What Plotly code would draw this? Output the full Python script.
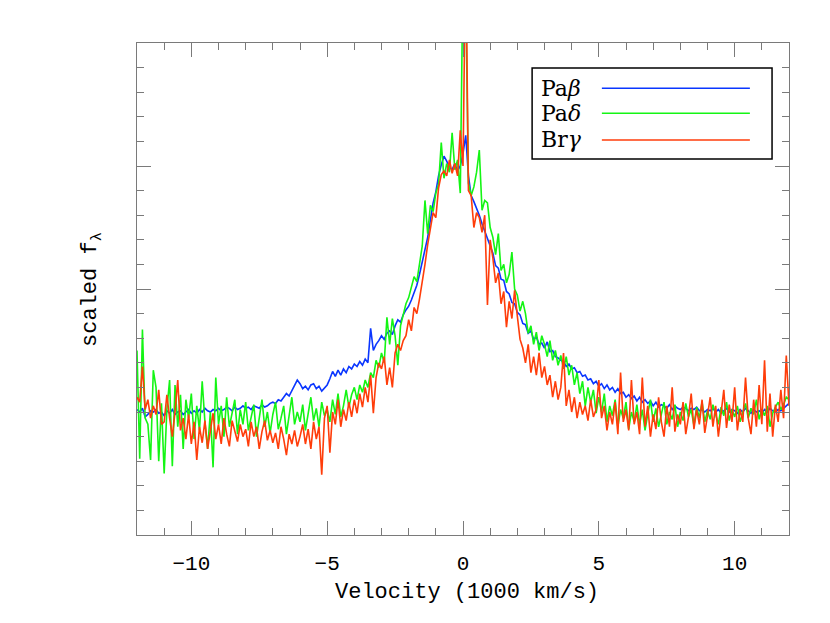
import plotly.graph_objects as go

# velocity sampling grid (1000 km/s)
velocity = [round(-12 + 0.1 * i, 1) for i in range(241)]

pa_beta = [
    1.02, 1.00, 1.03, 0.96, 0.98, 1.01, 1.00, 1.02, 0.99, 1.00,
    0.97, 1.01, 0.99, 1.02, 0.98, 1.00, 1.01, 0.98, 1.00, 1.02,
    0.99, 1.01, 0.99, 1.02, 1.00, 1.03, 1.01, 1.00, 1.02, 1.01,
    1.03, 1.01, 1.02, 1.04, 1.03, 1.01, 1.04, 1.02, 1.03, 1.05,
    1.03, 1.04, 1.02, 1.05, 1.04, 1.03, 1.06, 1.04, 1.05, 1.07,
    1.08, 1.07, 1.10, 1.09, 1.12, 1.15, 1.13, 1.17, 1.22, 1.26,
    1.23, 1.19, 1.21, 1.18, 1.22, 1.23, 1.19, 1.21, 1.17, 1.20,
    1.22, 1.27, 1.33, 1.29, 1.34, 1.30, 1.35, 1.32, 1.37, 1.35,
    1.39, 1.37, 1.41, 1.38, 1.43, 1.40, 1.68, 1.50, 1.55, 1.58,
    1.62, 1.59, 1.64, 1.66, 1.63, 1.70, 1.75, 1.73, 1.79, 1.83,
    1.86, 1.91, 1.97, 2.03, 2.12, 2.22, 2.32, 2.42, 2.56, 2.70,
    2.79, 2.92, 3.01, 3.08, 3.04, 2.99, 2.97, 3.02, 2.96, 3.00,
    3.10, 3.25, 2.92, 2.76, 2.71, 2.66, 2.60, 2.53, 2.47, 2.41,
    2.34, 2.29, 2.19, 2.17, 2.08, 2.07, 1.98, 1.96, 1.89, 1.88,
    1.81, 1.79, 1.72, 1.71, 1.64, 1.66, 1.59, 1.61, 1.55, 1.56,
    1.52, 1.57, 1.49, 1.50, 1.45, 1.44, 1.42, 1.41, 1.37, 1.39,
    1.35, 1.36, 1.32, 1.33, 1.29, 1.30, 1.26, 1.27, 1.23, 1.25,
    1.21, 1.23, 1.19, 1.22, 1.18, 1.20, 1.16, 1.19, 1.15, 1.16,
    1.12, 1.14, 1.11, 1.13, 1.09, 1.12, 1.08, 1.10, 1.07, 1.09,
    1.05, 1.08, 1.04, 1.06, 1.05, 1.03, 1.06, 1.02, 1.05, 1.03,
    1.02, 1.04, 1.03, 1.01, 1.03, 1.02, 1.04, 1.01, 1.02, 1.00,
    1.02, 1.01, 1.03, 1.00, 1.02, 0.99, 1.01, 1.03, 1.00, 1.02,
    1.01, 0.99, 1.02, 1.00, 1.03, 1.01, 0.99, 1.02, 1.00, 1.01,
    0.99, 1.02, 1.00, 1.03, 1.01, 1.00, 1.02, 1.01, 1.03, 1.05,
    1.07,
]

pa_delta = [
    1.50, 0.62, 1.67, 0.95, 0.90, 0.61, 1.34, 1.20, 0.60, 1.07,
    0.50, 1.02, 1.26, 0.56, 1.22, 0.88, 1.14, 0.70, 1.10, 0.95,
    1.15, 0.78, 1.05, 0.85, 1.25, 0.92, 0.70, 1.00, 0.55, 1.28,
    0.90, 1.05, 0.80, 1.12, 0.88, 0.98, 1.10, 0.82, 1.02, 0.90,
    1.08, 0.85, 0.95, 1.06, 0.80, 0.97, 1.10, 0.88, 1.00, 0.83,
    0.98, 1.08, 0.86, 0.95, 1.05, 0.82, 0.97, 1.12, 0.90, 1.00,
    0.92, 1.06, 0.85, 1.00, 1.12, 0.93, 1.03, 0.88, 1.08, 0.97,
    1.02, 0.92, 1.10, 0.98, 1.15, 0.96, 1.05, 1.18, 1.04, 1.14,
    1.20, 1.10, 1.22, 1.16, 1.26, 1.20, 1.32, 1.28, 1.42, 1.36,
    1.48, 1.40, 1.77, 1.55, 1.76, 1.62, 1.38, 1.70, 1.80, 1.88,
    1.93, 2.02, 2.10, 2.06, 2.22, 2.35, 2.72, 2.45, 2.68, 2.63,
    2.78, 2.85, 3.19, 2.90, 3.02, 2.95, 3.27, 2.97, 3.05, 2.78,
    4.60, 4.40, 2.86, 2.76, 2.83, 2.95, 3.13, 2.64, 2.72, 2.70,
    2.50, 2.42, 2.28, 2.45, 2.15, 2.20, 2.05, 2.12, 2.30, 2.00,
    1.95, 1.82, 1.90, 1.80, 1.64, 1.70, 1.55, 1.65, 1.50, 1.62,
    1.55, 1.45, 1.58, 1.42, 1.50, 1.38, 1.46, 1.35, 1.45, 1.30,
    1.38, 1.22, 1.32, 1.15, 1.25, 1.05, 1.20, 1.08, 1.18, 0.99,
    1.12, 1.00, 1.15, 0.92, 1.05, 0.97, 1.10, 0.88, 1.02, 0.95,
    1.08, 0.86, 1.00, 0.92, 1.06, 0.90, 1.02, 0.85, 0.98, 1.10,
    0.92, 1.03, 0.88, 0.98, 1.08, 0.90, 1.00, 0.94, 1.06, 0.88,
    1.00, 0.93, 1.07, 0.96, 1.02, 0.89, 1.04, 0.95, 1.08, 0.92,
    1.01, 0.94, 1.06, 0.98, 0.90, 1.04, 0.97, 1.08, 0.93, 1.02,
    0.96, 1.05, 0.92, 1.00, 1.07, 0.95, 1.03, 0.98, 1.10, 0.94,
    1.02, 0.97, 1.05, 0.88, 0.99, 1.04, 1.08, 1.02, 1.06, 1.12,
    1.10,
]

br_gamma = [
    1.12, 1.08, 1.37, 1.02, 1.10, 0.95, 1.05, 0.98, 1.18, 0.90,
    0.92, 1.14, 0.95, 0.80, 1.00, 1.26, 0.85, 0.95, 0.78, 0.98,
    0.74, 0.92, 0.61, 0.88, 0.75, 0.93, 0.70, 0.85, 0.99, 0.78,
    0.90, 0.74, 0.95, 0.82, 0.72, 0.93, 0.85, 0.76, 0.90, 0.80,
    0.86, 0.72, 0.92, 0.80, 0.88, 0.70, 0.84, 0.93, 0.77, 0.85,
    0.75, 0.83, 0.70, 0.88, 0.78, 0.65, 0.82, 0.74, 0.85, 0.72,
    0.80, 0.90, 0.74, 0.86, 0.70, 0.92, 0.78, 0.88, 0.49, 0.95,
    1.05, 0.67, 1.00, 0.90, 1.10, 0.88, 1.02, 0.93, 1.08, 0.96,
    1.10, 0.99, 1.15, 1.04, 1.20, 1.08, 1.30, 0.99, 1.28, 1.40,
    1.35, 1.45, 1.22, 1.36, 1.20, 1.48, 1.55, 1.50, 1.58, 1.62,
    1.75, 1.66, 1.85, 1.80, 1.92, 2.05, 2.20, 2.36, 2.50, 2.62,
    2.58, 2.82, 2.93, 2.96, 2.92, 3.05, 2.94, 3.02, 2.92, 3.29,
    3.00, 4.80, 2.80, 2.76, 2.50, 2.62, 2.58, 2.46, 2.60, 1.87,
    2.40, 2.25, 2.05, 2.13, 1.88, 1.98, 1.69, 1.90, 1.76, 1.99,
    1.78, 1.59, 1.52, 1.40, 1.55, 1.32, 1.45, 1.30, 1.48, 1.28,
    1.37, 1.22, 1.30, 1.12, 1.25, 1.10, 1.20, 1.48, 1.05, 1.18,
    1.00, 1.12, 0.95, 1.08, 0.98, 1.05, 0.93, 1.10, 0.96, 1.02,
    1.26, 0.95, 1.05, 0.85, 1.00, 0.90, 1.08, 0.82, 1.32, 0.92,
    1.02, 0.85, 1.26, 0.90, 1.00, 0.82, 1.28, 0.88, 1.05, 0.80,
    0.98, 0.86, 1.12, 0.92, 0.80, 1.05, 0.88, 1.20, 0.84, 0.98,
    0.90, 1.08, 0.82, 0.96, 1.15, 0.86, 1.02, 0.90, 1.10, 0.83,
    0.97, 1.12, 0.88, 1.05, 0.80, 1.00, 1.18, 0.87, 1.06, 0.92,
    1.20, 0.85, 1.02, 0.92, 1.28, 0.95, 0.82, 1.10, 0.88, 1.22,
    0.90, 1.42, 0.84, 1.15, 0.80, 1.06, 0.92, 1.18, 0.95, 1.46,
    1.05,
]

series_names = ["Pa<i>β</i>", "Pa<i>δ</i>", "Br<i>γ</i>"]
series_colors = ["#0a36ff", "#14f514", "#ff3d0a"]
series_values = [pa_beta, pa_delta, br_gamma]

x_tick_vals = [-10, -5, 0, 5, 10]
x_tick_text = ["\u221210", "\u22125", "0", "5", "10"]

MONO = "Liberation Mono"
SERIF = "DejaVu Serif"
AXC = "#7a7a7a"

fig = go.Figure()
for name, color, vals in zip(series_names, series_colors, series_values):
    fig.add_trace(go.Scatter(x=velocity, y=vals, mode="lines", name=name,
                             line=dict(color=color, width=1.6), showlegend=False))

axis_common = dict(showgrid=False, zeroline=False, showline=True, linecolor=AXC,
                   linewidth=1, mirror="ticks", ticks="inside", ticklen=14,
                   tickcolor=AXC, tickwidth=1)

fig.update_xaxes(range=[-12, 12], tickvals=x_tick_vals, ticktext=x_tick_text,
                 tickfont=dict(family=MONO, size=21, color="black"), ticklabelstandoff=9,
                 minor=dict(ticks="inside", ticklen=7, dtick=1, tickcolor=AXC, tickwidth=1),
                 **axis_common)
fig.update_yaxes(range=[0, 4], dtick=1, tick0=0, showticklabels=False,
                 minor=dict(ticks="inside", ticklen=7, dtick=0.2, tickcolor=AXC, tickwidth=1),
                 **axis_common)

shapes = [dict(type="rect", xref="paper", yref="paper", x0=0.606, x1=0.974, y0=0.764, y1=0.949,
               line=dict(color="black", width=1.5), fillcolor="white", layer="above")]
annotations = [
    dict(xref="paper", yref="paper", x=0.506, y=-0.116, text="Velocity (1000 km/s)",
         showarrow=False, xanchor="center", yanchor="middle",
         font=dict(family=MONO, size=22, color="black")),
    dict(xref="paper", yref="paper", x=-0.069, y=0.498, text="scaled f<sub>λ</sub>",
         showarrow=False, xanchor="center", yanchor="middle", textangle=-90,
         font=dict(family=MONO, size=22, color="black")),
]
rows_y = [0.908, 0.857, 0.803]
for name, color, yy in zip(series_names, series_colors, rows_y):
    shapes.append(dict(type="line", xref="paper", yref="paper", x0=0.713, x1=0.940, y0=yy, y1=yy,
                       line=dict(color=color, width=1.5), layer="above"))
    annotations.append(dict(xref="paper", yref="paper", x=0.616, y=yy, text=name, showarrow=False,
                            xanchor="left", yanchor="middle",
                            font=dict(family=SERIF, size=22, color="black")))

# the page body adds an 8 px offset, so the figure is sized to fill the window
fig.update_layout(width=822, height=615, paper_bgcolor="white", plot_bgcolor="white",
                  margin=dict(l=129, r=41, t=35, b=88), shapes=shapes, annotations=annotations,
                  showlegend=False)

fig.write_html("out.html")
